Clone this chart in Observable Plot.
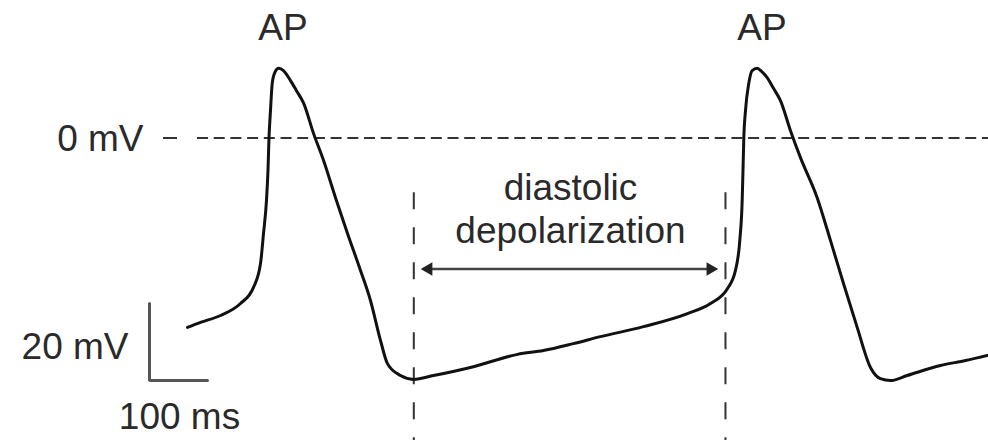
<!DOCTYPE html>
<html>
<head>
<meta charset="utf-8">
<script src="https://cdn.jsdelivr.net/npm/d3@7"></script>
<script src="https://cdn.jsdelivr.net/npm/@observablehq/plot@0.6"></script>
<style>
  html, body { margin: 0; padding: 0; background: #fff; }
  svg { display: block; }
</style>
</head>
<body>
<div id="chart"></div>
<script>
// Membrane potential trace (time in ms, voltage in mV)
const timeMs = [65.5, 87.9, 122.4, 156.9, 179.3, 191.4, 196.6, 201.7, 204.3, 206, 208.6, 211.6, 216, 222.9, 231, 243.1, 253.4, 265.5, 282.8, 300, 320.7, 341.4, 363.8, 381, 398.3, 410.3, 432.8, 455.2,
  489.7, 558.6, 634.5, 679.3, 731, 777.6, 851.7, 927.6, 967.2, 996.6, 1010.3, 1017.8, 1021.9, 1023.3, 1024.7, 1027.6, 1033.3, 1039.1, 1047.8, 1055.2, 1065, 1075.9, 1087.9, 1105.2, 1122.4, 1151.2, 1174.1, 1196.6, 1220.2, 1243.1, 1260.3, 1277.6, 1306.4, 1363.8, 1406.9, 1446.6];
const voltageMv = [-49.2, -47.9, -46.1, -43, -38.8, -32.6, -24.8, -16.2, -8.4, -0.1, 7.1, 14.2, 17, 18.1, 17.5, 14.9, 12.3, 9.1, 1.2, -5.8, -15.5, -24.8, -34.4, -42.2, -52.6, -58.6, -61.7, -62.7,
  -61.7, -59.4, -56.2, -55.2, -53.4, -51.6, -49, -45.6, -43, -39.1, -34.4, -26.6, -16.2, -8.4, -0.1, 7.1, 14.2, 17.5, 18.1, 17.3, 15.7, 12.9, 9.7, 1.9, -5.1, -15.5, -26.6, -37.8, -49.2, -59.6, -62.5, -63, -61.7, -59.1, -57.8, -56.4];

// Annotation values
const apLabels = ["AP", "AP"];
const apLabelTimes = [230.2, 1056];
const zeroLevelMv = 0;
const diastoleStartMs = 455.7;
const diastoleEndMs = 993.1;
const diastoleLabel = ["diastolic", "depolarization"];
const scaleBarMv = 20;
const scaleBarMs = 100;
const scaleBarLabels = ["20 mV", "100 ms"];
const zeroLabel = "0 mV";

const trace = timeMs.map((t, i) => ({t, v: voltageMv[i]}));
const scaleBase = -63;
const scaleBar = [
  {t: 0, v: scaleBase + scaleBarMv},
  {t: 0, v: scaleBase},
  {t: scaleBarMs, v: scaleBase}
];
const arrowY = -34;
const font = "Liberation Sans, Arial, Helvetica, sans-serif";
const textColor = "#2a2a2a";

const chart = Plot.plot({
  width: 988,
  height: 440,
  marginTop: 0, marginRight: 0, marginBottom: 0, marginLeft: 0,
  x: {domain: [-256.9, 1446.6], axis: null},
  y: {domain: [-78.57, 35.71], axis: null},
  style: {fontFamily: font, background: "#fff"},
  marks: [
    // 0 mV reference: small tick + dashed line
    Plot.ruleY([zeroLevelMv], {x1: 24.1, x2: 48.3, stroke: "#333", strokeWidth: 2}),
    Plot.ruleY([zeroLevelMv], {x1: 82.8, x2: 1446.6, stroke: "#333", strokeWidth: 2, strokeDasharray: "11,5.7"}),
    // diastole boundaries
    Plot.ruleX([diastoleStartMs, diastoleEndMs], {y1: -14.2, y2: -78.6, stroke: "#333", strokeWidth: 2, strokeDasharray: "17,18"}),
    // double arrow
    Plot.link([{x1: 481, x2: 967.2}], {x1: "x1", x2: "x2", y1: arrowY, y2: arrowY, stroke: "#444", strokeWidth: 2.5}),
    Plot.dot([{t: 481, r: -90}, {t: 967.2, r: 90}], {x: "t", y: arrowY, symbol: "triangle", r: 5, fill: "#222", stroke: "none", rotate: "r"}),
    // scale bar
    Plot.line(scaleBar, {x: "t", y: "v", stroke: "#555", strokeWidth: 3, strokeLinejoin: "miter"}),
    // trace
    Plot.line(trace, {x: "t", y: "v", curve: "monotone-x", stroke: "#111", strokeWidth: 3, strokeLinejoin: "round", strokeLinecap: "round"}),
    // labels
    Plot.text(apLabels, {x: (d, i) => apLabelTimes[i], y: 28.6, text: d => d, fontSize: 37, fill: textColor, textAnchor: "middle"}),
    Plot.text([zeroLabel], {x: -10.3, y: -0.2, text: d => d, fontSize: 37, fill: textColor, textAnchor: "end"}),
    Plot.text([scaleBarLabels[0]], {x: -36.2, y: -54.2, text: d => d, fontSize: 37, fill: textColor, textAnchor: "end"}),
    Plot.text([scaleBarLabels[1]], {x: 51.7, y: -72.4, text: d => d, fontSize: 37, fill: textColor, textAnchor: "middle"}),
    Plot.text([diastoleLabel[0]], {x: 725.9, y: -12.9, text: d => d, fontSize: 37, fill: textColor, textAnchor: "middle"}),
    Plot.text([diastoleLabel[1]], {x: 725.9, y: -24.1, text: d => d, fontSize: 37, fill: textColor, textAnchor: "middle"})
  ]
});
document.getElementById("chart").appendChild(chart);
</script>
</body>
</html>
